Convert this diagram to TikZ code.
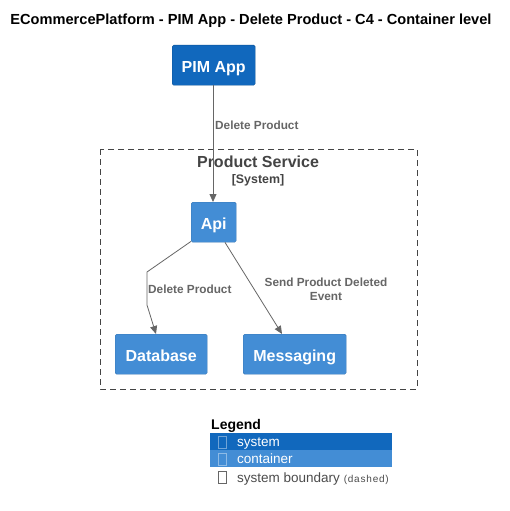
\documentclass[tikz,border=0pt]{standalone}
\usepackage{fontspec}
\setmainfont{Liberation Sans}
\usetikzlibrary{arrows.meta}
\definecolor{sysblue}{HTML}{1168BD}
\definecolor{contblue}{HTML}{438DD5}
\definecolor{linegray}{HTML}{666666}
\definecolor{bndgray}{HTML}{444444}
\tikzset{
  sysbox/.style={fill=sysblue, draw=sysblue!80!black, rounded corners=1.5pt, text=white, font=\fontsize{16}{18}\selectfont\bfseries, minimum height=40pt, inner sep=0pt, anchor=north west, text depth=0pt, text height=14pt},
  contbox/.style={fill=contblue, draw=contblue!85!black, rounded corners=1.5pt, text=white, font=\fontsize{16}{18}\selectfont\bfseries, minimum height=40pt, inner sep=0pt, anchor=north west, text depth=0pt, text height=14pt},
  rel/.style={draw=linegray, line width=0.8pt, -{Triangle[length=8pt,width=7pt]}},
  rellabel/.style={text=linegray, font=\fontsize{11.8}{14}\selectfont\bfseries, inner sep=0pt, align=center},
  legrow/.style={minimum width=182pt, minimum height=17pt, inner sep=0pt, anchor=north west},
  tofu/.style={draw=#1, line width=0.5pt, minimum width=8pt, minimum height=12pt, inner sep=0pt},
}
\begin{document}
\begin{tikzpicture}[x=1pt,y=-1pt]
\useasboundingbox (0,0) rectangle (509,511);
\fill[white] (0,0) rectangle (509,511);
\node[font=\fontsize{14.6}{16}\selectfont\bfseries, anchor=base] (title) at (251,25) {ECommercePlatform - PIM App - Delete Product - C4 - Container level};

% boundary
\draw[dashed, dash pattern=on 6pt off 4pt, draw=bndgray, line width=0.8pt] (100,149) rectangle (417,389);
\node[text=bndgray, font=\fontsize{16}{18}\selectfont\bfseries, anchor=base] (bndtitle) at (258,167) {Product Service};
\node[text=bndgray, font=\fontsize{12.4}{14}\selectfont\bfseries, anchor=base] (bndtype) at (258,183.5) {[System]};

\node[sysbox, minimum width=83pt] (pim) at (172,45) {PIM App};
\node[contbox, minimum width=45pt] (api) at (191,202) {Api};
\node[contbox, minimum width=92pt] (db) at (115,334) {Database};
\node[contbox, minimum width=103pt] (msg) at (243,334) {Messaging};

\coordinate (d1) at (147,272);
\coordinate (d2) at (147,305);
\draw[rel] (pim.south -| 213,0) -- (api.north -| 213,0);
\node[rellabel, anchor=west] (l1) at (215,125) {Delete Product};
\draw[rel] (api.south west) ++(0,-1) -- (d1) -- (d2) -- (db.north -| 156,0);
\node[rellabel, anchor=west] (l2) at (148,289) {Delete Product};
\draw[rel] (api.south -| 225,0) -- (msg.north -| 282,0);
\node[rellabel] (l3) at (326,289.5) {Send Product Deleted\\Event};

% legend
\node[font=\fontsize{14}{16}\selectfont\bfseries, anchor=base west, inner sep=0pt] (legt) at (211,429) {Legend};
\node[legrow, fill=sysblue] (lsys) at (210,433) {};
\node[legrow, fill=contblue] (lcont) at (210,450) {};
\node[tofu=sysblue!60!white] (t1) at (222,442) {};
\node[tofu=contblue!60!white] (t2) at (222,459) {};
\node[tofu=black!60] (t3) at (222,477.5) {};
\node[anchor=base west, text=white, font=\fontsize{13.5}{15}\selectfont, inner sep=0pt] (lsyst) at (237,446.5) {system};
\node[anchor=base west, text=white, font=\fontsize{13.5}{15}\selectfont, inner sep=0pt] (lcontt) at (237,463.5) {container};
\node[anchor=base west, text=black!70, font=\fontsize{13.5}{15}\selectfont, inner sep=0pt] (lbnd) at (237,482) {system boundary {\fontsize{10}{10}\selectfont\addfontfeature{LetterSpace=8} (dashed)}};
\end{tikzpicture}
\end{document}
